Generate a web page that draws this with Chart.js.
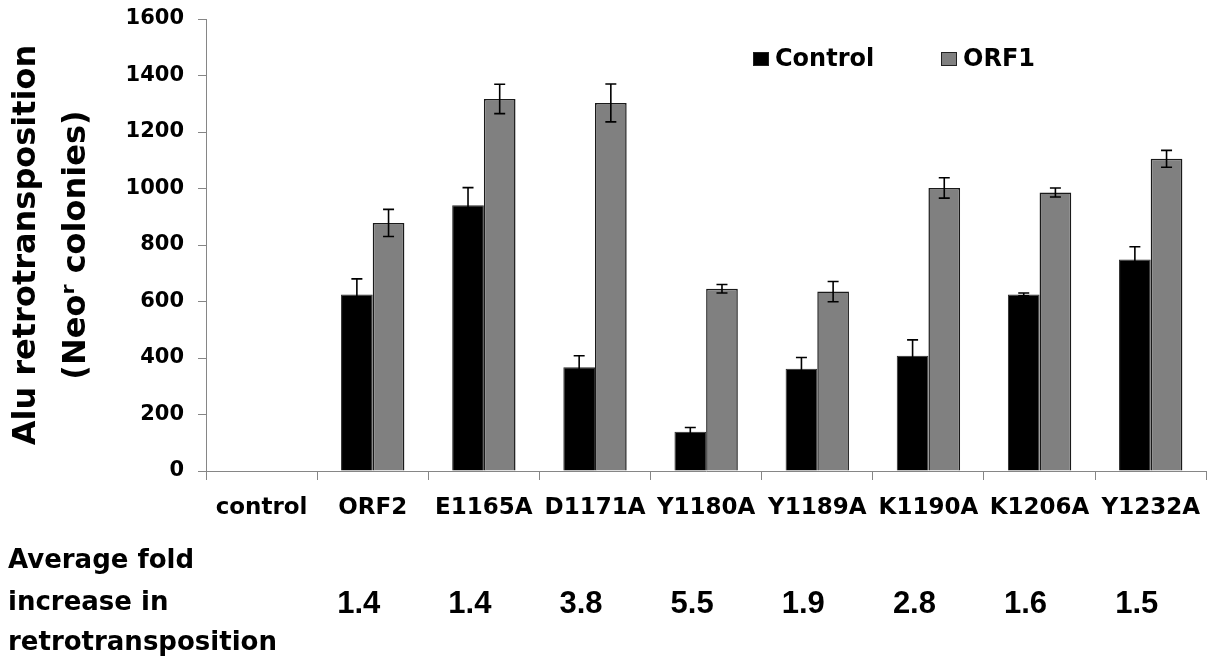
<!DOCTYPE html>
<html>
<head>
<meta charset="utf-8">
<script src="https://cdn.jsdelivr.net/npm/chart.js@4/dist/chart.umd.min.js"></script>
<style>
  html, body { margin: 0; padding: 0; background: #fff; }
  #wrap { width: 1214px; height: 657px; }
</style>
</head>
<body>
<div id="wrap"><canvas id="chart"></canvas></div>
<script>
    var categories = ["control", "ORF2", "E1165A", "D1171A", "Y1180A", "Y1189A", "K1190A", "K1206A", "Y1232A"];
    var controlValues = [null, 625, 941, 367, 139, 362, 408, 625, 749];
    var controlErrors = [null, 55, 62, 41, 15, 40, 56, 5, 45];
    var orf1Values = [null, 878, 1317, 1303, 645, 635, 1002, 986, 1105];
    var orf1Errors = [null, 48, 52, 67, 15, 36, 36, 16, 30];
    var foldIncrease = ["", "1.4", "1.4", "3.8", "5.5", "1.9", "2.8", "1.6", "1.5"];
    var foldRowLabel = ["Average fold", "increase in", "retrotransposition"];
    var yTicks = [0, 200, 400, 600, 800, 1000, 1200, 1400, 1600];

    var FONT = "'DejaVu Sans', sans-serif";
    Chart.defaults.font.family = FONT;
    Chart.defaults.font.weight = 'bold';
    Chart.defaults.color = '#000';

    // error bars, drawn from the bar elements and the y scale
    var errorBars = {
        id: 'errorBars',
        afterDatasetsDraw: function (chart) {
            var ctx = chart.ctx, y = chart.scales.y;
            ctx.save();
            ctx.strokeStyle = '#000';
            ctx.lineWidth = 1.6;
            chart.data.datasets.forEach(function (ds, d) {
                chart.getDatasetMeta(d).data.forEach(function (bar, i) {
                    var v = ds.data[i], e = ds.errors[i];
                    if (v == null || e == null) return;
                    var top = y.getPixelForValue(v + e), bot = y.getPixelForValue(v - e);
                    ctx.beginPath();
                    ctx.moveTo(bar.x, top); ctx.lineTo(bar.x, bot);
                    ctx.moveTo(bar.x - 5.5, top); ctx.lineTo(bar.x + 5.5, top);
                    ctx.moveTo(bar.x - 5.5, bot); ctx.lineTo(bar.x + 5.5, bot);
                    ctx.stroke();
                });
            });
            ctx.restore();
        }
    };

    // legend inside the plot and the fold-increase row under the axis
    var extras = {
        id: 'extras',
        afterDraw: function (chart) {
            var ctx = chart.ctx, x = chart.scales.x;
            ctx.save();
            var legendX = [753, 941];
            ctx.font = 'bold 24px ' + FONT;
            ctx.textBaseline = 'middle';
            chart.data.datasets.forEach(function (ds, d) {
                ctx.fillStyle = ds.backgroundColor;
                ctx.fillRect(legendX[d], 52, 16, 14);
                ctx.strokeStyle = '#222';
                ctx.lineWidth = 1;
                ctx.strokeRect(legendX[d] + 0.5, 52.5, 15, 13);
                ctx.fillStyle = '#000';
                ctx.fillText(ds.label, legendX[d] + 22, 60);
            });

            ctx.font = 'bold 26px ' + FONT;
            ctx.textBaseline = 'alphabetic';
            ctx.textAlign = 'left';
            var baselines = [568, 610, 650];
            foldRowLabel.forEach(function (t, i) { ctx.fillText(t, 8, baselines[i]); });

            ctx.font = "bold 31px 'Liberation Sans', Arial, sans-serif";
            ctx.textAlign = 'center';
            foldIncrease.forEach(function (t, i) {
                if (t) ctx.fillText(t, x.getPixelForValue(i) - 14, 613);
            });
            ctx.restore();
        }
    };

    new Chart("chart", {
        type: "bar",
        data: {
            labels: categories,
            datasets: [{
                label: "Control",
                data: controlValues,
                errors: controlErrors,
                backgroundColor: '#000000',
                borderColor: '#2a2a2a',
                borderWidth: 1
            }, {
                label: "ORF1",
                data: orf1Values,
                errors: orf1Errors,
                backgroundColor: '#808080',
                borderColor: '#1a1a1a',
                borderWidth: 1.5
            }]
        },
        options: {
            responsive: true,
            maintainAspectRatio: false,
            animation: false,
            layout: { padding: { top: 19, right: 1, left: 0, bottom: 0 } },
            datasets: { bar: { categoryPercentage: 0.57, barPercentage: 1 } },
            scales: {
                x: {
                    ticks: { font: { size: 23 }, padding: 14, maxRotation: 0, autoSkip: false },
                    grid: { drawOnChartArea: false, tickLength: 9, color: '#868686', offset: true },
                    border: { color: '#868686' },
                    afterFit: function (s) { s.height = 186; }
                },
                y: {
                    min: 0,
                    max: 1600,
                    afterBuildTicks: function (s) { s.ticks = yTicks.map(function (v) { return { value: v }; }); },
                    ticks: { font: { size: 21 }, padding: 14, callback: function (v) { return String(v); } },
                    grid: { drawOnChartArea: false, tickLength: 8, color: '#868686' },
                    border: { color: '#868686' },
                    title: {
                        display: true,
                        text: ["Alu retrotransposition", "(Neo\u02b3 colonies)"],
                        font: { size: 32, lineHeight: 1.56 },
                        padding: { top: 2, bottom: 0 }
                    },
                    afterFit: function (s) {
                        s.width = 206;
                        s.paddingTop = 0;
                        s.paddingBottom = 0;
                    }
                }
            },
            plugins: {
                legend: { display: false },
                tooltip: { enabled: false }
            }
        },
        plugins: [errorBars, extras]
    });
</script>
</body>
</html>
